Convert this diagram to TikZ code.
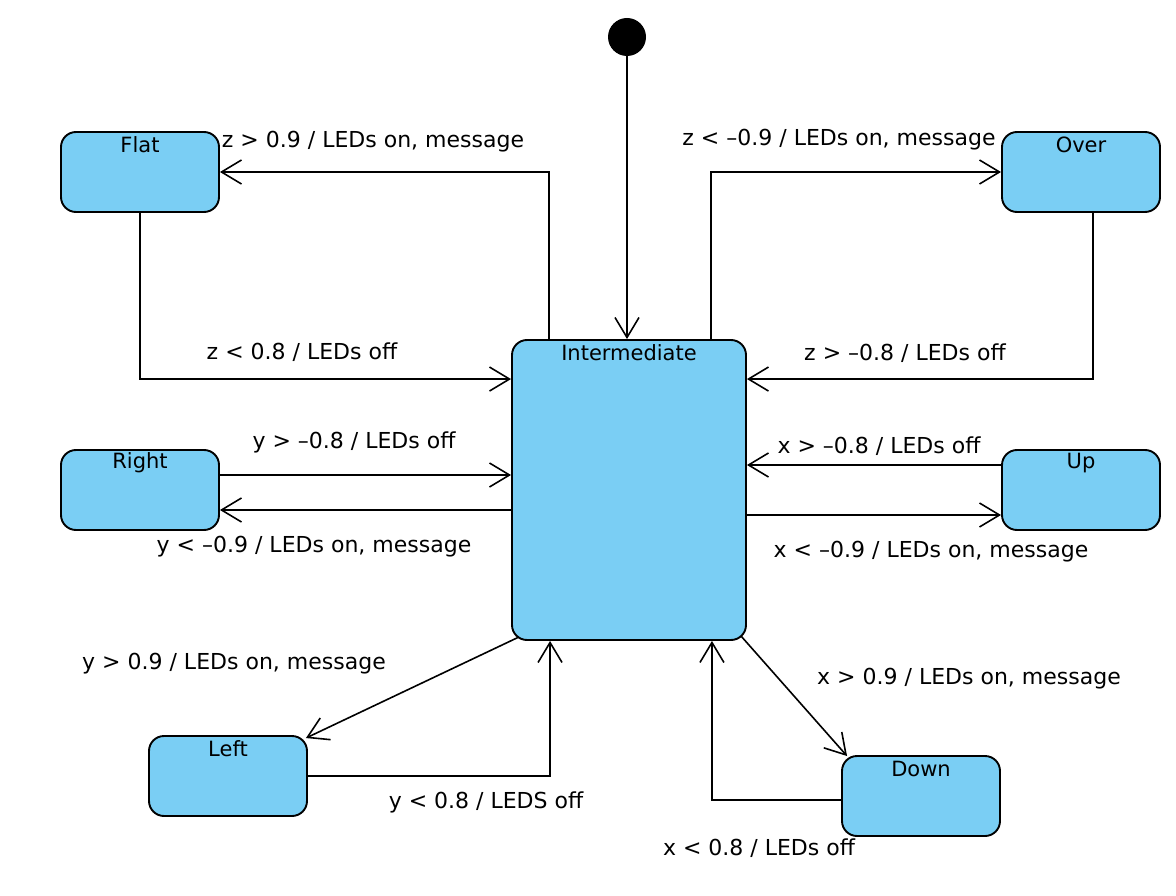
\documentclass[tikz,border=0pt]{standalone}
\usepackage{fontspec}
\setmainfont{DejaVu Sans}
\usetikzlibrary{arrows.meta,calc}
\definecolor{statefill}{RGB}{122,206,244}
\begin{document}
\begin{tikzpicture}[x=1pt,y=-1pt,
  state/.style={draw=black, line width=1.9pt, fill=statefill, rounded corners=15pt,
    minimum width=158pt, minimum height=80pt, inner sep=0pt},
  arr/.style={line width=1.6pt, -{Straight Barb[length=20pt,width=24pt]}},
  lbl/.style={font=\fontsize{22}{26}\selectfont, inner sep=0pt},
  every label/.style={font=\fontsize{21}{24}\selectfont, inner sep=0pt}]
\useasboundingbox (0,0) rectangle (1176,896);

% states
\node[state, minimum width=234pt, minimum height=300pt,
  label={[anchor=center,yshift=-14pt]north:Intermediate}] (Int) at (629,490) {};
\node[state, label={[anchor=center,yshift=-14pt]north:Flat}] (Flat) at (140,172) {};
\node[state, label={[anchor=center,yshift=-14pt]north:Over}] (Over) at (1081,172) {};
\node[state, label={[anchor=center,yshift=-14pt]north:Right}] (Right) at (140,490) {};
\node[state, label={[anchor=center,yshift=-14pt]north:Up}] (Up) at (1081,490) {};
\node[state, label={[anchor=center,yshift=-14pt]north:Left}] (Left) at (228,776) {};
\node[state, label={[anchor=center,yshift=-14pt]north:Down}] (Down) at (921,796) {};
\node[circle, fill=black, minimum size=38pt, inner sep=0pt] (init) at (627,37) {};

% transitions
\draw[arr] (init.south) -- (init.south |- Int.north);
\draw[arr] ([xshift=38pt]Int.north west) |- (Flat.east);
\draw[arr] (Flat.south) |- ([yshift=-40pt]Int.north west);
\draw[arr] ([xshift=-36pt]Int.north east) |- (Over.west);
\draw[arr] ([xshift=12pt]Over.south) |- ([yshift=-40pt]Int.north east);

\coordinate (r1) at ([yshift=15pt]Right.east);
\coordinate (r2) at ([yshift=-20pt]Right.east);
\coordinate (u1) at ([yshift=25pt]Up.west);
\coordinate (u2) at ([yshift=-25pt]Up.west);
\draw[arr] (r1) -- (r1 -| Int.west);
\draw[arr] (r2 -| Int.west) -- (r2);
\draw[arr] (u1) -- (u1 -| Int.east);
\draw[arr] (u2 -| Int.east) -- (u2);

\draw[arr] ([xshift=8pt,yshift=4pt]Int.south west) -- ([xshift=-2pt,yshift=-3pt]Left.north east);
\draw[arr] (Left.east) -| ([xshift=39pt]Int.south west);
\draw[arr] ([xshift=-6pt,yshift=5pt]Int.south east) -- ([xshift=6pt,yshift=-1pt]Down.north west);
\draw[arr] ([yshift=-4pt]Down.west) -| ([xshift=-35pt]Int.south east);

% labels
\node[lbl] (l1) at (373,142) {z > 0.9 / LEDs on, message};
\node[lbl] (l2) at (302,352) {z < 0.8 / LEDs off};
\node[lbl] (l3) at (839,140) {z < –0.9 / LEDs on, message};
\node[lbl] (l4) at (905,353) {z > –0.8 / LEDs off};
\node[lbl] (l5) at (354,442) {y > –0.8 / LEDs off};
\node[lbl] (l6) at (314,547) {y < –0.9 / LEDs on, message};
\node[lbl] (l7) at (879,446) {x > –0.8 / LEDs off};
\node[lbl] (l8) at (931,552) {x < –0.9 / LEDs on, message};
\node[lbl] (l9) at (234,664) {y > 0.9 / LEDs on, message};
\node[lbl] (l10) at (486,802) {y < 0.8 / LEDS off};
\node[lbl] (l11) at (969,679) {x > 0.9 / LEDs on, message};
\node[lbl] (l12) at (759,848) {x < 0.8 / LEDs off};
\end{tikzpicture}
\end{document}
